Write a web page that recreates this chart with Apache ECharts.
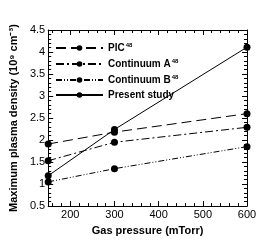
<!DOCTYPE html>
<html><head><meta charset="utf-8">
<script src="https://cdn.jsdelivr.net/npm/echarts@6/dist/echarts.min.js"></script>
<style>html,body{margin:0;padding:0;background:#fff}#c{width:271px;height:241px}</style>
</head><body><div id="c"></div>
<script>
const pressure = [150, 300, 600];
const pic = [1.91, 2.18, 2.60];
const contA = [1.53, 1.95, 2.29];
const contB = [1.05, 1.35, 1.85];
const present = [1.19, 2.24, 4.11];
const seriesNames = ['PIC', 'Continuum A', 'Continuum B', 'Present study'];
const seriesRefs = ['48', '48', '48', ''];
const xMajor = [200, 300, 400, 500, 600];
const xMinor = [160, 180, 220, 240, 260, 280, 320, 340, 360, 380, 420, 440, 460, 480, 520, 540, 560, 580];

const FONT = '"Liberation Sans", Arial, sans-serif';
const dashes = [[10, 5], [8, 3, 2, 3], [6, 2, 1, 2, 1, 2], 'solid'];
const datasets = [pic, contA, contB, present];

const chart = echarts.init(document.getElementById('c'), null, {renderer: 'canvas'});
const xBase = {type: 'value', min: 150, max: 600, gridIndex: 0};
const yBase = {type: 'value', min: 0.5, max: 4.5, interval: 0.5};
chart.setOption({
  animation: false,
  backgroundColor: '#fff',
  grid: {left: 45, right: 24, top: 30, bottom: 27},
  legend: {
    orient: 'vertical', left: 50, top: 37, itemWidth: 47, itemHeight: 7, itemGap: 5,
    textStyle: {fontFamily: FONT, fontWeight: 'bold', fontSize: 10, color: '#000',
      rich: {
        b: {fontFamily: FONT, fontWeight: 'bold', fontSize: 10, color: '#000'},
        s: {fontFamily: FONT, fontWeight: 'bold', fontSize: 6, color: '#000', padding: [0, 0, 6, 1]}
      }},
    formatter: name => {
      const i = seriesNames.indexOf(name);
      return '{b|' + name + '}' + (seriesRefs[i] ? '{s|' + seriesRefs[i] + '}' : '');
    },
    data: seriesNames
  },
  xAxis: [
    Object.assign({}, xBase, {
      position: 'bottom', name: 'Gas pressure (mTorr)', nameLocation: 'middle', nameGap: 16,
      nameTextStyle: {fontFamily: FONT, fontWeight: 'bold', fontSize: 11, color: '#000'},
      axisLine: {lineStyle: {color: '#000', width: 1}},
      axisTick: {inside: true, length: 5, customValues: xMajor, lineStyle: {color: '#000'}},
      axisLabel: {customValues: xMajor, fontFamily: FONT, fontSize: 11, color: '#000', margin: 3},
      splitLine: {show: false}
    }),
    Object.assign({}, xBase, {
      position: 'bottom', axisLine: {show: false},
      axisTick: {inside: true, length: 3, customValues: xMinor, lineStyle: {color: '#000'}},
      axisLabel: {show: false}, splitLine: {show: false}
    }),
    Object.assign({}, xBase, {
      position: 'top', axisLine: {lineStyle: {color: '#000', width: 1}},
      axisTick: {inside: true, length: 5, customValues: xMajor, lineStyle: {color: '#000'}},
      axisLabel: {show: false}, splitLine: {show: false}
    }),
    Object.assign({}, xBase, {
      position: 'top', axisLine: {show: false},
      axisTick: {inside: true, length: 3, customValues: xMinor, lineStyle: {color: '#000'}},
      axisLabel: {show: false}, splitLine: {show: false}
    })
  ],
  yAxis: [
    Object.assign({}, yBase, {
      position: 'left', name: 'Maximum plasma density (10⁹ cm⁻³)', nameLocation: 'middle', nameGap: 29,
      nameTextStyle: {fontFamily: FONT, fontWeight: 'bold', fontSize: 11, color: '#000'},
      axisLine: {show: true, lineStyle: {color: '#000', width: 1}},
      axisTick: {show: true, inside: true, length: 5, lineStyle: {color: '#000'}},
      minorTick: {show: true, splitNumber: 5, length: 3, lineStyle: {color: '#000'}},
      axisLabel: {fontFamily: FONT, fontSize: 11, color: '#000', margin: 3},
      splitLine: {show: false}
    }),
    Object.assign({}, yBase, {
      position: 'right',
      axisLine: {show: true, lineStyle: {color: '#000', width: 1}},
      axisTick: {show: true, inside: true, length: 5, lineStyle: {color: '#000'}},
      minorTick: {show: true, splitNumber: 5, length: 3, lineStyle: {color: '#000'}},
      axisLabel: {show: false}, splitLine: {show: false}
    })
  ],
  series: seriesNames.map((n, i) => ({
    name: n, type: 'line', xAxisIndex: 0, yAxisIndex: 0,
    data: pressure.map((p, j) => [p, datasets[i][j]]),
    symbol: 'circle', symbolSize: 7,
    itemStyle: {color: '#000'},
    lineStyle: {color: '#000', width: 1, type: dashes[i]},
    z: 10 - i
  }))
});
</script></body></html>
